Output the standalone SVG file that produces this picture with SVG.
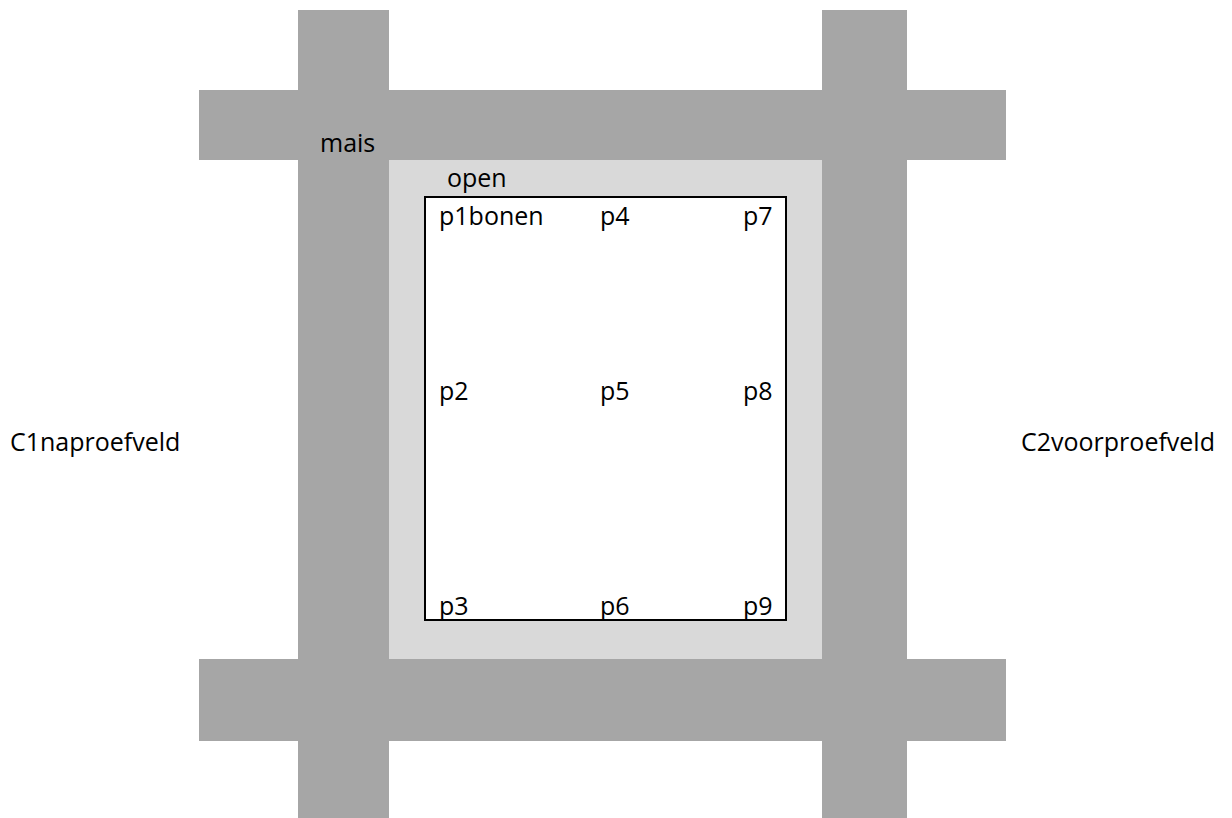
<svg xmlns="http://www.w3.org/2000/svg" width="1232" height="818" viewBox="0 0 1232 818">
<style>
.band{fill:#a6a6a6}
.open{fill:#d9d9d9}
.plot{fill:#ffffff;stroke:#000000;stroke-width:2}
text{font-family:"Open Sans","Liberation Sans",sans-serif;font-size:25px;fill:#000000}
</style>
<rect width="1232" height="818" fill="#ffffff"/>
<g id="bands">
<rect class="band" x="298" y="10" width="91" height="808"/>
<rect class="band" x="822" y="10" width="85" height="808"/>
<rect class="band" x="199" y="90" width="807" height="70"/>
<rect class="band" x="199" y="659" width="807" height="82"/>
</g>
<g id="open-area">
<rect class="open" x="389" y="160" width="433" height="499"/>
</g>
<g id="plot">
<rect class="plot" x="425" y="197" width="361" height="423"/>
</g>
<g id="labels">
<text x="320" y="152">mais</text>
<text x="447" y="187">open</text>
<text x="439" y="225">p1bonen</text>
<text x="600" y="225">p4</text>
<text x="743" y="225">p7</text>
<text x="439" y="400">p2</text>
<text x="600" y="400">p5</text>
<text x="743" y="400">p8</text>
<text x="439" y="615">p3</text>
<text x="600" y="615">p6</text>
<text x="743" y="615">p9</text>
<text x="10" y="451">C1naproefveld</text>
<text x="1021" y="451">C2voorproefveld</text>
</g>
</svg>
